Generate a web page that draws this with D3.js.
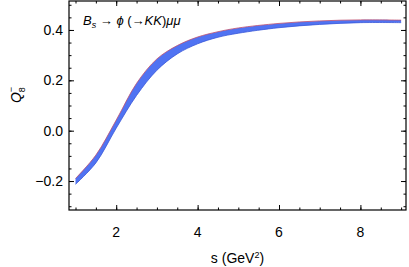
<!DOCTYPE html>
<html>
<head>
<meta charset="utf-8">
<script src="https://cdn.jsdelivr.net/npm/d3@7"></script>
<style>
  body { margin: 0; background: #fff; }
  svg { display: block; font-family: "Liberation Sans", Arial, sans-serif; }
  .tick-label { font-size: 14px; fill: #000; }
</style>
</head>
<body>
<div id="chart"></div>
<script>
// band
const sValues = [1, 1.5, 2, 2.5, 3, 3.5, 4, 4.5, 5, 6, 7, 8, 9];
const upperQ8 = [-0.19, -0.097, 0.042, 0.188, 0.285, 0.338, 0.372, 0.393, 0.408, 0.426, 0.436, 0.440, 0.439];
const lowerQ8 = [-0.213, -0.128, 0.01, 0.14, 0.24, 0.305, 0.345, 0.371, 0.387, 0.409, 0.422, 0.429, 0.429];
const xTicks = [2, 4, 6, 8];
const yTicks = [-0.2, 0.0, 0.2, 0.4];

const width = 409, height = 267;
const margin = {top: 1, right: 3, bottom: 57, left: 69};
const innerW = width - margin.left - margin.right;
const innerH = height - margin.top - margin.bottom;

const svg = d3.select('#chart').append('svg')
    .attr('width', width)
    .attr('height', height);

const chart = svg.append('g')
    .attr('transform', `translate(${margin.left},${margin.top})`);

const x = d3.scaleLinear().domain([0.84, 9.12]).range([0, innerW]);
const y = d3.scaleLinear().domain([-0.315, 0.515]).range([innerH, 0]);

const band = sValues.map((s, i) => ({s, lo: lowerQ8[i], hi: upperQ8[i]}));
const curve = d3.curveCatmullRom.alpha(0.5);

chart.append('path')
    .datum(band)
    .attr('fill', '#5073f2')
    .attr('d', d3.area().curve(curve)
        .x(d => x(d.s)).y0(d => y(d.lo)).y1(d => y(d.hi)));

chart.append('path')
    .datum(band)
    .attr('fill', 'none')
    .attr('stroke', '#3a58d8')
    .attr('stroke-width', 0.8)
    .attr('d', d3.line().curve(curve).x(d => x(d.s)).y(d => y(d.lo)));

chart.append('path')
    .datum(band)
    .attr('fill', 'none')
    .attr('stroke', '#c0506e')
    .attr('stroke-width', 0.8)
    .attr('d', d3.line().curve(curve).x(d => x(d.s)).y(d => y(d.hi)));

// frame ticks on all four sides, major and minor, pointing inward
const xMinor = d3.range(1, 9.01, 0.5);
const yMinor = d3.range(-0.3, 0.501, 0.05);

const axes = [
    {make: () => d3.axisBottom(x), tr: `translate(0,${innerH})`, major: xTicks, minor: xMinor},
    {make: () => d3.axisTop(x), tr: 'translate(0,0)', major: xTicks, minor: xMinor},
    {make: () => d3.axisLeft(y), tr: 'translate(0,0)', major: yTicks, minor: yMinor},
    {make: () => d3.axisRight(y), tr: `translate(${innerW},0)`, major: yTicks, minor: yMinor}
];

axes.forEach(a => {
    [[a.minor, -2.5], [a.major, -5]].forEach(([vals, size]) => {
        chart.append('g')
            .attr('transform', a.tr)
            .call(a.make().tickValues(vals).tickSize(size).tickFormat(''))
            .call(g => g.select('.domain').remove())
            .call(g => g.selectAll('line').attr('stroke', '#000'));
    });
});

chart.append('g').selectAll('text')
    .data(xTicks).join('text')
    .attr('class', 'tick-label')
    .attr('x', d => x(d))
    .attr('y', innerH + 27)
    .attr('text-anchor', 'middle')
    .text(d => d);

chart.append('g').selectAll('text')
    .data(yTicks).join('text')
    .attr('class', 'tick-label')
    .attr('x', -6)
    .attr('y', d => y(d))
    .attr('dy', '0.35em')
    .attr('text-anchor', 'end')
    .text(d => d3.format('.1f')(d).replace('-', '\u2212'));

chart.append('rect')
    .attr('width', innerW)
    .attr('height', innerH)
    .attr('fill', 'none')
    .attr('stroke', '#000')
    .attr('stroke-width', 1.2);

// process label
const lbl = chart.append('text')
    .attr('x', 14)
    .attr('y', 24)
    .attr('font-size', 13)
    .attr('font-style', 'italic');
lbl.append('tspan').text('B');
lbl.append('tspan').attr('font-size', 9).attr('dy', 3).text('s');
lbl.append('tspan').attr('dy', -3).attr('font-style', 'normal').text(' \u2192 ');
lbl.append('tspan').text('\u03d5');
lbl.append('tspan').attr('font-style', 'normal').text(' (\u2192');
lbl.append('tspan').text('KK');
lbl.append('tspan').attr('font-style', 'normal').text(')');
lbl.append('tspan').text('\u03bc\u03bc');

// x axis title
const xt = svg.append('text')
    .attr('x', margin.left + innerW / 2)
    .attr('y', 263)
    .attr('text-anchor', 'middle')
    .attr('font-size', 14);
xt.append('tspan').text('s (GeV');
xt.append('tspan').attr('font-size', 9).attr('dy', -5).text('2');
xt.append('tspan').attr('dy', 5).text(')');

// y axis title
const yt = svg.append('text')
    .attr('transform', `translate(21,95) rotate(-90)`)
    .attr('text-anchor', 'middle')
    .attr('font-size', 14)
    .attr('font-style', 'italic');
yt.append('tspan').text('Q');
yt.append('tspan').attr('font-size', 9).attr('font-style', 'normal').attr('dy', 4).text('8');
yt.append('tspan').attr('font-size', 9).attr('font-style', 'normal').attr('dx', -5).attr('dy', -11).text('\u2212');
</script>
</body>
</html>
